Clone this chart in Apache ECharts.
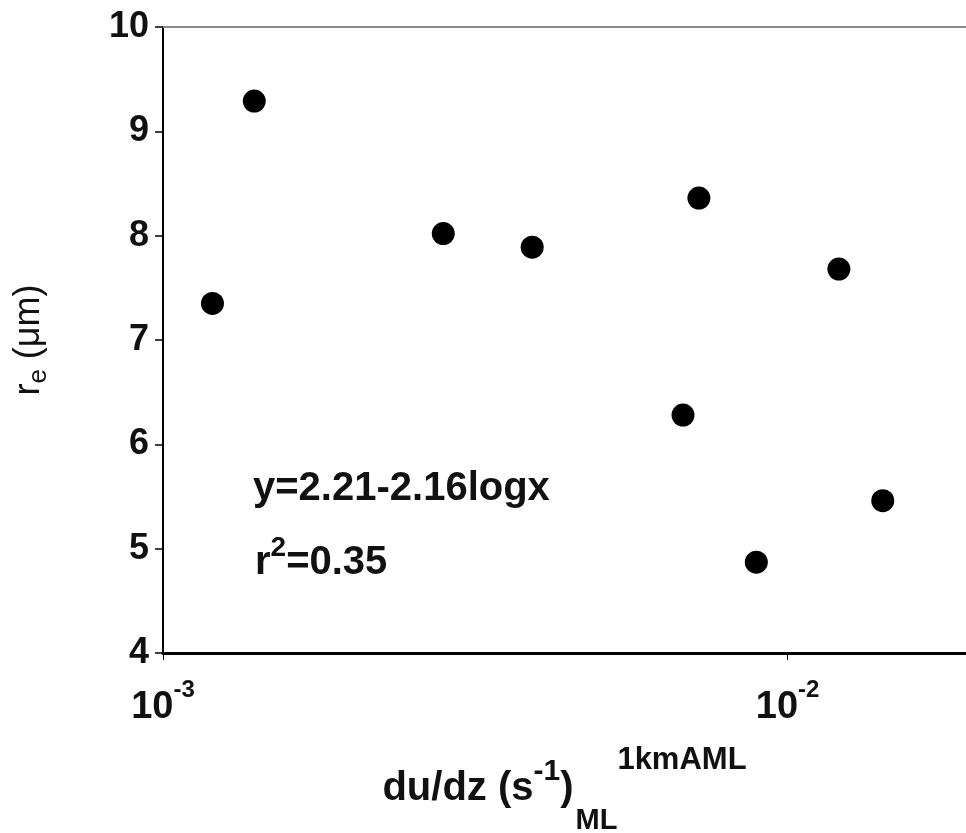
<!DOCTYPE html>
<html>
<head>
<meta charset="utf-8">
<script src="https://cdn.jsdelivr.net/npm/echarts@6/dist/echarts.min.js"></script>
<style>html,body{margin:0;padding:0;background:#fff;}#c{width:966px;height:833px;}</style>
</head>
<body>
<div id="c"></div>
<script>
// Data
var shearValues = [0.0012, 0.0014, 0.00281, 0.0039, 0.00721, 0.0068, 0.00891, 0.01208, 0.0142];
var reValues = [7.35, 9.29, 8.02, 7.89, 8.36, 6.28, 4.87, 7.68, 5.46];
var yTicks = [4, 5, 6, 7, 8, 9, 10];
var equationText = 'y=2.21-2.16logx';
var r2Text = '0.35';

var FONT = 'Liberation Sans, Arial, Helvetica, sans-serif';
var INK = '#111';
var points = shearValues.map(function (x, i) { return [x, reValues[i]]; });

var chart = echarts.init(document.getElementById('c'), null, {renderer: 'canvas'});
chart.setOption({
  backgroundColor: '#ffffff',
  animation: false,
  grid: {left: 163, top: 27, right: 0, bottom: 180, containLabel: false, outerBoundsMode: 'none'},
  xAxis: [{
    type: 'log',
    logBase: 10,
    min: 0.001,
    max: 0.0193,
    position: 'bottom',
    name: 'du/dz (s{sup|-1}){sub|ML}{sup2|1kmAML}',
    nameLocation: 'middle',
    nameGap: 104,
    nameTextStyle: {
      color: INK, fontFamily: FONT, fontWeight: 'bold', fontSize: 40, lineHeight: 40,
      rich: {
        sup: {fontSize: 30, fontWeight: 'bold', fontFamily: FONT, color: INK, lineHeight: 40, verticalAlign: 'middle', padding: [0, 0, 34, 0]},
        sub: {fontSize: 29, fontWeight: 'bold', fontFamily: FONT, color: INK, lineHeight: 40, verticalAlign: 'middle', padding: [64, 0, 0, 2]},
        sup2: {fontSize: 31, fontWeight: 'bold', fontFamily: FONT, color: INK, lineHeight: 40, verticalAlign: 'middle', padding: [0, 0, 56, 0]}
      }
    },
    axisLine: {show: true, onZero: false, lineStyle: {color: '#000', width: 3}},
    axisTick: {show: true, length: 7, lineStyle: {color: '#000', width: 1}},
    splitLine: {show: false},
    minorTick: {show: false},
    axisLabel: {
      margin: 36,
      showMaxLabel: false,
      formatter: function (v) {
        var e = Math.round(Math.log10(v));
        return '10{sup|' + e + '}';
      },
      color: INK, fontFamily: FONT, fontWeight: 'bold', fontSize: 38, lineHeight: 38,
      rich: {
        sup: {fontSize: 24, fontFamily: FONT, fontWeight: 'bold', color: INK, lineHeight: 38, verticalAlign: 'middle', padding: [0, 0, 35, 0]}
      }
    }
  }, {
    type: 'log',
    logBase: 10,
    min: 0.001,
    max: 0.0193,
    position: 'top',
    axisLine: {show: true, onZero: false, lineStyle: {color: '#888', width: 2}},
    axisTick: {show: false},
    axisLabel: {show: false},
    splitLine: {show: false}
  }],
  yAxis: {
    type: 'value',
    min: yTicks[0],
    max: yTicks[yTicks.length - 1],
    interval: 1,
    name: 'r{sub|e} (μm)',
    nameLocation: 'middle',
    nameRotate: 90,
    nameGap: 114,
    nameTextStyle: {
      color: INK, fontFamily: FONT, fontSize: 36, lineHeight: 40,
      rich: {
        sub: {fontSize: 26, fontFamily: FONT, color: INK, lineHeight: 40, verticalAlign: 'middle', padding: [20, 0, 0, 0]}
      }
    },
    axisLine: {show: true, lineStyle: {color: '#000', width: 2}},
    axisTick: {show: true, length: 8, lineStyle: {color: '#000', width: 1.5}},
    splitLine: {show: false},
    axisLabel: {margin: 14, color: INK, fontFamily: FONT, fontWeight: 'bold', fontSize: 36}
  },
  graphic: [
    {type: 'text', left: 253, top: 469, style: {text: equationText, font: 'bold 40px ' + FONT, lineHeight: 40, fill: INK}},
    {type: 'text', left: 255, top: 534, style: {
      text: 'r{sup|2}=' + r2Text, font: 'bold 40px ' + FONT, lineHeight: 40, fill: INK,
      rich: {sup: {font: 'bold 28px ' + FONT, fill: INK, lineHeight: 40, verticalAlign: 'middle', padding: [0, 0, 30, 0]}}
    }}
  ],
  series: [{
    type: 'scatter',
    xAxisIndex: 0,
    data: points,
    symbol: 'circle',
    symbolSize: 23,
    itemStyle: {color: '#000', opacity: 1}
  }]
});
</script>
</body>
</html>
